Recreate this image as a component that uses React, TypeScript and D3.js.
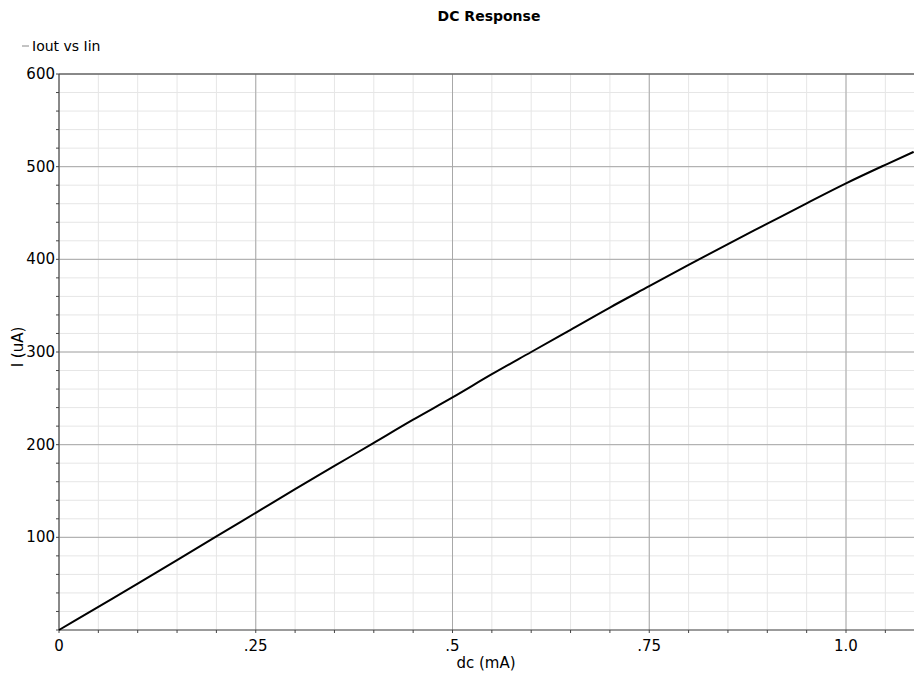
import React, { useEffect, useRef } from 'react';
import * as d3 from 'd3';

// Iout vs Iin, dc sweep (mA -> uA)
const dcValues = [0, 0.05, 0.1, 0.15, 0.2, 0.25, 0.3, 0.35, 0.4, 0.45, 0.5, 0.55, 0.6, 0.65, 0.7, 0.75, 0.8, 0.85, 0.9, 0.95, 1.0, 1.05, 1.086];
const ioutValues = [0, 25, 50, 75.5, 101, 126.5, 152, 177, 202, 227, 251, 276, 300, 324, 348, 371, 394, 416.5, 438.5, 460.5, 482, 502, 516];
const xTicks = [0, 0.25, 0.5, 0.75, 1.0];
const xTickLabels = ['0', '.25', '.5', '.75', '1.0'];
const yTicks = [100, 200, 300, 400, 500, 600];

const W = 914;
const H = 676;

export default function App() {
  const ref = useRef<SVGSVGElement>(null);

  useEffect(() => {
    const svg = d3.select(ref.current);
    svg.selectAll('*').remove();

    const margin = { top: 74, right: 0, bottom: 46, left: 59 };
    const x = d3.scaleLinear().domain([0, 1.0864]).range([margin.left, W - margin.right]);
    const y = d3.scaleLinear().domain([0, 600]).range([H - margin.bottom, margin.top]);
    const font = '"DejaVu Sans", Verdana, sans-serif';

    const minorX = d3.range(0, 1.09, 0.05);
    const minorY = d3.range(0, 601, 20);

    // minor grid
    svg.append('g')
      .selectAll('line')
      .data(minorX)
      .enter()
      .append('line')
      .attr('x1', (d) => x(d)).attr('x2', (d) => x(d))
      .attr('y1', y(0)).attr('y2', y(600))
      .attr('stroke', '#e6e6e6');
    svg.append('g')
      .selectAll('line')
      .data(minorY)
      .enter()
      .append('line')
      .attr('x1', x(0)).attr('x2', W)
      .attr('y1', (d) => y(d)).attr('y2', (d) => y(d))
      .attr('stroke', '#e6e6e6');

    // major grid
    svg.append('g')
      .selectAll('line')
      .data(xTicks)
      .enter()
      .append('line')
      .attr('x1', (d) => x(d)).attr('x2', (d) => x(d))
      .attr('y1', y(0)).attr('y2', y(600))
      .attr('stroke', '#a8a8a8');
    svg.append('g')
      .selectAll('line')
      .data(yTicks)
      .enter()
      .append('line')
      .attr('x1', x(0)).attr('x2', W)
      .attr('y1', (d) => y(d)).attr('y2', (d) => y(d))
      .attr('stroke', '#a8a8a8');

    // axes frame
    svg.append('line')
      .attr('x1', x(0)).attr('x2', W).attr('y1', y(600)).attr('y2', y(600))
      .attr('stroke', '#444');
    svg.append('line')
      .attr('x1', x(0)).attr('x2', W).attr('y1', y(0)).attr('y2', y(0))
      .attr('stroke', '#444');
    svg.append('line')
      .attr('x1', x(0)).attr('x2', x(0)).attr('y1', y(0)).attr('y2', y(600))
      .attr('stroke', '#444');

    // tick marks
    svg.append('g')
      .selectAll('line')
      .data(minorX)
      .enter()
      .append('line')
      .attr('x1', (d) => x(d)).attr('x2', (d) => x(d))
      .attr('y1', y(0)).attr('y2', y(0) + 3)
      .attr('stroke', '#444');
    svg.append('g')
      .selectAll('line')
      .data(minorY)
      .enter()
      .append('line')
      .attr('x1', x(0) - 3).attr('x2', x(0))
      .attr('y1', (d) => y(d)).attr('y2', (d) => y(d))
      .attr('stroke', '#444');

    // tick labels
    svg.append('g')
      .selectAll('text')
      .data(xTicks)
      .enter()
      .append('text')
      .attr('x', (d) => x(d))
      .attr('y', y(0) + 21)
      .attr('text-anchor', 'middle')
      .style('font-family', font)
      .style('font-size', '15px')
      .text((d, i) => xTickLabels[i]);
    svg.append('g')
      .selectAll('text')
      .data(yTicks)
      .enter()
      .append('text')
      .attr('x', x(0) - 4)
      .attr('y', (d) => y(d) + 5)
      .attr('text-anchor', 'end')
      .style('font-family', font)
      .style('font-size', '15px')
      .text((d) => d);

    // curve
    const pts = dcValues.map((d, i) => [d, ioutValues[i]] as [number, number]);
    svg.append('path')
      .datum(pts)
      .attr('fill', 'none')
      .attr('stroke', '#000')
      .attr('stroke-width', 2)
      .attr('d', d3.line<[number, number]>().x((d) => x(d[0])).y((d) => y(d[1])).curve(d3.curveMonotoneX));

    // title, legend, axis labels
    svg.append('text')
      .attr('x', 489).attr('y', 21)
      .attr('text-anchor', 'middle')
      .style('font-family', font)
      .style('font-size', '14px')
      .style('font-weight', 'bold')
      .text('DC Response');

    svg.append('line')
      .attr('x1', 22).attr('x2', 29).attr('y1', 46).attr('y2', 46)
      .attr('stroke', '#888');
    svg.append('text')
      .attr('x', 32).attr('y', 51)
      .style('font-family', font)
      .style('font-size', '14px')
      .text('Iout vs Iin');

    svg.append('text')
      .attr('x', 486).attr('y', 668)
      .attr('text-anchor', 'middle')
      .style('font-family', font)
      .style('font-size', '15px')
      .text('dc (mA)');

    svg.append('text')
      .attr('transform', `translate(23, 347) rotate(-90)`)
      .attr('text-anchor', 'middle')
      .style('font-family', font)
      .style('font-size', '15px')
      .text('I (uA)');
  }, []);

  return (
    <svg
      ref={ref}
      width={W}
      height={H}
      style={{ position: 'absolute', left: 0, top: 0, background: '#fff' }}
    />
  );
}
